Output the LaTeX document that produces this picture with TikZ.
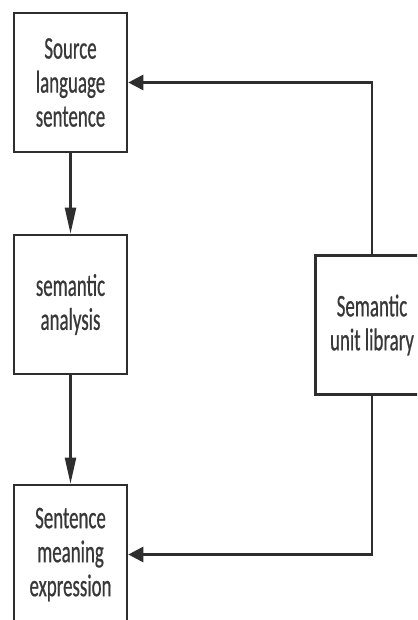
\documentclass[tikz,border=0pt]{standalone}
\usepackage{fontspec}
\newfontfamily\boxfont[FakeStretch=0.6, FakeBold=0.6]{Carlito}
\usetikzlibrary{arrows.meta}
\definecolor{linegray}{HTML}{2E2E2E}
\definecolor{textgray}{HTML}{383838}

\begin{document}
\begin{tikzpicture}[x=1pt, y=-1pt, >=Triangle]
	\tikzstyle{box} = [draw=linegray, line width=2.6pt, rectangle, minimum width=113pt, minimum height=139pt, inner sep=0pt, align=center, text=textgray, font=\boxfont\fontsize{31.5}{34}\selectfont]
	\tikzstyle{down} = [draw=linegray, line width=2.2pt, -{Triangle[length=26pt, width=11pt]}]
	\tikzstyle{back} = [draw=linegray, line width=2.8pt, -{Triangle[length=15pt, width=15pt]}]
	
	\useasboundingbox (0,0) rectangle (417,620);
	\clip (0,0) rectangle (417,620);
	
	\node[box] at (70.5, 82.5)	(src)	{Source\\language\\sentence};
	\node[box] at (70.5, 304.5)	(sem)	{semantic\\analysis};
	\node[box] at (70.5, 554.5)	(smx)	{Sentence\\meaning\\expression};
	\node[box] at (372, 325)	(lib)	{Semantic\\unit library};
	
	\draw[down] (src) -- (sem);
	\draw[down] (sem) -- (smx);
	\draw[back] (lib) |- (src);
	\draw[back] (lib) |- (smx);
\end{tikzpicture}
\end{document}
